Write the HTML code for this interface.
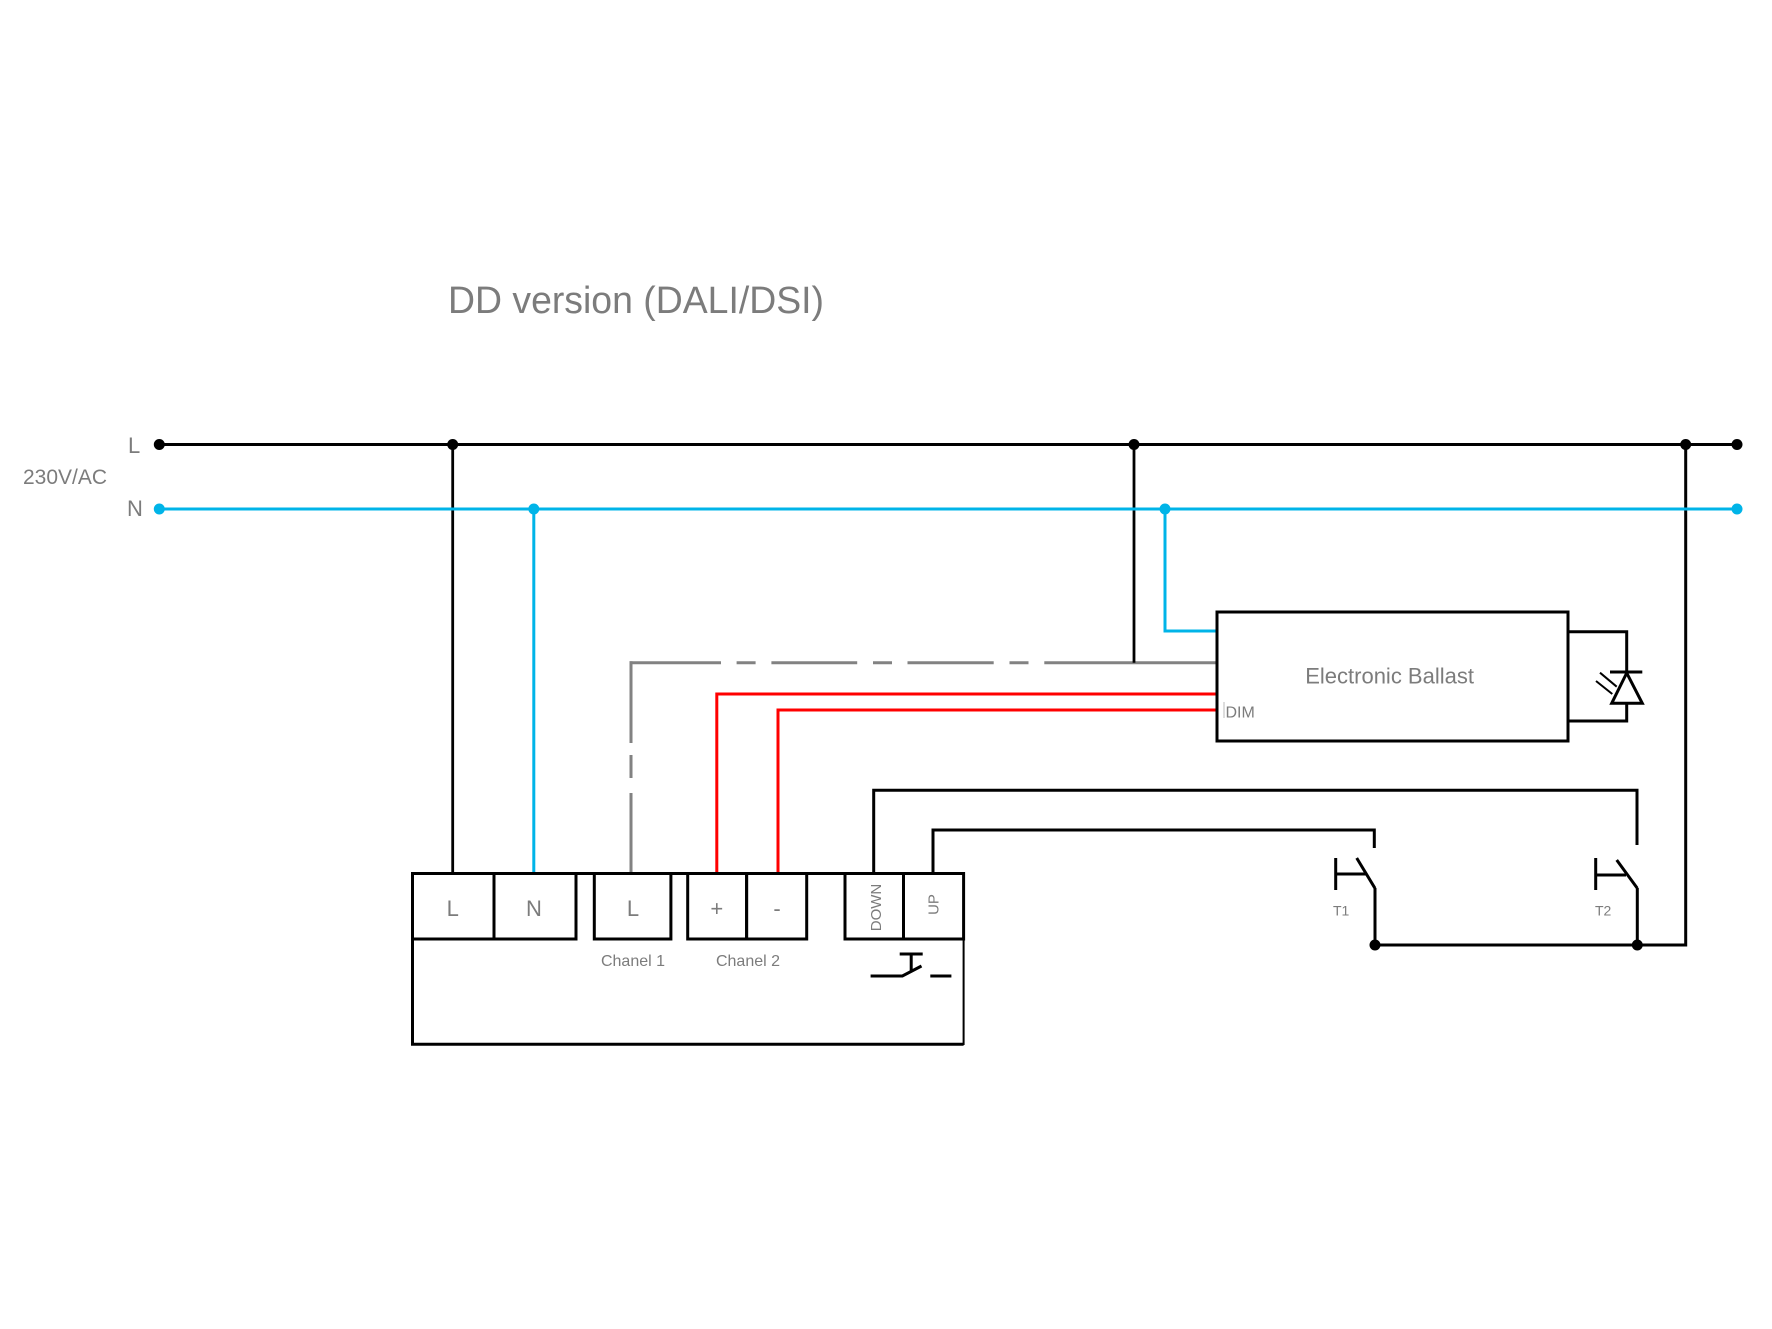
<!DOCTYPE html>
<html>
<head>
<meta charset="utf-8">
<style>
html,body{margin:0;padding:0;background:#fff;}
svg{display:block;}
text{font-family:"Liberation Sans",sans-serif;fill:#7c7c7c;}
</style>
</head>
<body>
<svg width="1772" height="1329" viewBox="0 0 1772 1329" xmlns="http://www.w3.org/2000/svg">
<rect width="1772" height="1329" fill="#fff"/>

<!-- Title -->
<text x="448" y="313" font-size="38" textLength="376" lengthAdjust="spacingAndGlyphs">DD version (DALI/DSI)</text>

<!-- Left labels -->
<text x="128" y="453" font-size="22">L</text>
<text x="23" y="484" font-size="21" textLength="84" lengthAdjust="spacingAndGlyphs">230V/AC</text>
<text x="127" y="516" font-size="22">N</text>

<g fill="none" stroke-linecap="butt" stroke-linejoin="miter">
  <!-- Gray dashed wire -->
  <g stroke="#828282" stroke-width="3">
    <path d="M631,661.2 V743 M631,755 V778 M631,793 V873"/>
    <path d="M629.5,662.7 H721 M736.6,662.7 H755.6 M771.4,662.7 H857.2 M873,662.7 H892 M907.5,662.7 H993.7 M1009.5,662.7 H1028.5 M1044.3,662.7 H1217"/>
  </g>

  <!-- Red DIM wires -->
  <path d="M716.8,873 V694 H1217" stroke="#ff0000" stroke-width="3"/>
  <path d="M778,873 V710 H1217" stroke="#ff0000" stroke-width="3"/>

  <!-- L bus -->
  <path d="M159,444.5 H1737" stroke="#000" stroke-width="3"/>
  <path d="M452.7,444 V873" stroke="#000" stroke-width="2.8"/>
  <path d="M1134,444 V662.7" stroke="#000" stroke-width="2.8"/>
  <path d="M1685.7,444 V945 H1375" stroke="#000" stroke-width="3"/>

  <!-- N bus -->
  <path d="M159,509 H1737" stroke="#00b4e8" stroke-width="3"/>
  <path d="M533.8,509 V873" stroke="#00b4e8" stroke-width="3"/>
  <path d="M1165,509 V631 H1217" stroke="#00b4e8" stroke-width="3"/>

  <!-- DOWN / UP wires -->
  <path d="M873.7,873 V790.3 H1637 V845" stroke="#000" stroke-width="3"/>
  <path d="M933,873 V830 H1374.3 V848" stroke="#000" stroke-width="3"/>

  <!-- T1 switch -->
  <path d="M1335.7,858 V890 M1335.7,874 H1366 M1356.7,858 L1375,888.3 M1375,888 V945" stroke="#000" stroke-width="3"/>
  <!-- T2 switch -->
  <path d="M1595.7,858 V890 M1595.7,875 H1626 M1616.7,860 L1637.3,888.3 M1637.3,888 V945" stroke="#000" stroke-width="3"/>

  <!-- Ballast -->
  <rect x="1217" y="612" width="351" height="129" stroke="#000" stroke-width="3"/>
  <path d="M1224,702 V718" stroke="#bbb" stroke-width="1"/>

  <!-- LED -->
  <path d="M1568,631.7 H1626.7 V672 M1610,672 H1642.3 M1626.7,703.3 V721 H1568" stroke="#000" stroke-width="3"/>
  <path d="M1626.7,673 L1611.7,703.3 H1642.3 Z" stroke="#000" stroke-width="3"/>
  <path d="M1600,672.7 L1616.7,686.7 M1596,681 L1612.3,694" stroke="#000" stroke-width="2"/>

  <!-- Terminal blocks -->
  <g stroke="#000" stroke-width="3">
    <path d="M412.5,873.5 H963.6"/>
    <rect x="412.5" y="873.5" width="81.5" height="65.5"/>
    <rect x="494" y="873.5" width="82" height="65.5"/>
    <rect x="594.3" y="873.5" width="76.6" height="65.5"/>
    <rect x="687.7" y="873.5" width="58.9" height="65.5"/>
    <rect x="746.6" y="873.5" width="60.1" height="65.5"/>
    <rect x="845" y="873.5" width="58.5" height="65.5"/>
    <rect x="903.5" y="873.5" width="60.1" height="65.5"/>
    <path d="M412.5,939 V1044.3 H963.6"/>
  </g>
  <path d="M963.6,939 V1045" stroke="#000" stroke-width="2"/>

  <!-- internal switch symbol -->
  <path d="M870.6,976 H902.4 L921.5,966 M911.2,954 V972 M899.7,954 H922.7 M930.3,976 H951.4" stroke="#000" stroke-width="3"/>
</g>

<!-- Dots -->
<g fill="#000">
  <circle cx="159.3" cy="444.5" r="5.5"/>
  <circle cx="452.7" cy="444.5" r="5.5"/>
  <circle cx="1134" cy="444.5" r="5.5"/>
  <circle cx="1685.7" cy="444.5" r="5.5"/>
  <circle cx="1737" cy="444.5" r="5.5"/>
  <circle cx="1375" cy="945" r="5.5"/>
  <circle cx="1637.3" cy="945" r="5.5"/>
</g>
<g fill="#00b4e8">
  <circle cx="159.3" cy="509" r="5.5"/>
  <circle cx="533.8" cy="509" r="5.5"/>
  <circle cx="1165" cy="509" r="5.5"/>
  <circle cx="1737" cy="509" r="5.5"/>
</g>

<!-- Terminal labels -->
<g font-size="22" text-anchor="middle">
  <text x="452.7" y="916">L</text>
  <text x="534" y="916">N</text>
  <text x="633" y="916">L</text>
  <text x="716.8" y="916">+</text>
  <text x="777" y="916">-</text>
</g>
<text x="881" y="907.5" font-size="15" text-anchor="middle" transform="rotate(-90 881 907.5)">DOWN</text>
<text x="938.5" y="904.5" font-size="15" text-anchor="middle" transform="rotate(-90 938.5 904.5)">UP</text>

<text x="633" y="966" font-size="16" text-anchor="middle">Chanel 1</text>
<text x="748" y="966" font-size="16" text-anchor="middle">Chanel 2</text>

<text x="1389.6" y="683.3" font-size="22" text-anchor="middle">Electronic Ballast</text>
<text x="1225.5" y="717.5" font-size="16">DIM</text>

<text x="1333" y="915.7" font-size="14">T1</text>
<text x="1595" y="915.7" font-size="14">T2</text>
</svg>
</body>
</html>
